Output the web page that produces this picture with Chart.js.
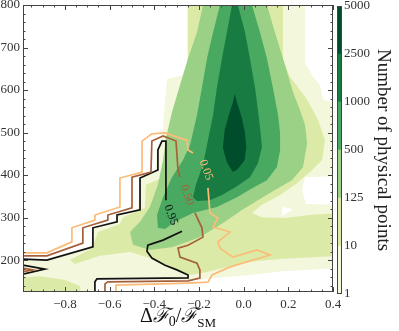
<!DOCTYPE html>
<html>
<head>
<meta charset="utf-8">
<script src="https://cdn.jsdelivr.net/npm/chart.js@4.4.1/dist/chart.umd.min.js"></script>
<style>
  body { margin: 0; background: #fff; width: 399px; height: 331px; overflow: hidden; position: relative; }
  #main { position: absolute; left: 0; top: 0; width: 352px; height: 331px; }
  #cbar { position: absolute; left: 336px; top: 0; width: 63px; height: 331px; }
</style>
</head>
<body>
<div id="main"><canvas id="plot"></canvas></div>
<div id="cbar"><canvas id="bar"></canvas></div>
<script>
// ── Données ────────────────────────────────────────────────────────────────
// axes
const xLimits = [-0.988, 0.4];
const yLimits = [125, 800];
const xTickValues = [-0.8, -0.6, -0.4, -0.2, 0.0, 0.2, 0.4];
const yTickValues = [200, 300, 400, 500, 600, 700, 800];

// échelle de couleur (nombre de points physiques)
const levelEdges  = ['1', '10', '125', '500', '1000', '2500', '5000'];
const levelColors = ['#f3f7dc', '#dbeba7', '#9bd087', '#4aa961', '#187b42', '#004d2c'];

// zones remplies : [ΔF0/FSM, y]
const region1 = [[-0.254,824],[-0.254,638],[-0.343,626],[-0.352,577],[-0.361,513],[-0.37,480],[-0.388,459],[-0.397,412],[-0.464,398],[-0.473,320],[-0.567,308],[-0.576,292],[-0.675,278],[-0.684,233],[-0.881,203],[-1.02,198],[-1.02,106],[-0.675,106],[-0.666,144],[-0.644,156],[-0.24,153],[-0.12,158],[0.028,165],[0.176,174],[0.431,181],[0.431,330],[0.279,332],[0.261,365],[0.275,395],[0.431,398],[0.431,565],[0.355,577],[0.342,612],[0.31,631],[0.275,664],[0.275,824]];
const emptyPocket = [[0.172,325],[0.221,320],[0.172,304]];
const region2 = [[-0.249,824],[-0.249,640],[-0.276,607],[-0.303,577],[-0.321,513],[-0.33,471],[-0.339,424],[-0.366,393],[-0.438,377],[-0.442,323],[-0.54,301],[-0.554,285],[-0.652,266],[-0.679,228],[-0.778,200],[-0.756,191],[-0.644,210],[-0.509,219],[-0.42,205],[-0.33,181],[-0.24,165],[-0.164,172],[-0.075,184],[0.028,196],[0.176,203],[0.431,210],[0.431,311],[0.297,306],[0.185,299],[0.082,301],[0.037,311],[0.082,330],[0.163,353],[0.23,377],[0.297,407],[0.351,435],[0.364,482],[0.333,530],[0.284,577],[0.243,607],[0.207,631],[0.176,671],[0.176,824]];
const region2Blob = [[-1.02,158],[-0.912,162],[-0.8,153],[-0.733,139],[-0.724,106],[-1.02,106]];
const region3 = [[-0.182,824],[-0.182,800],[-0.209,736],[-0.249,675],[-0.285,612],[-0.321,548],[-0.348,487],[-0.361,435],[-0.384,377],[-0.42,325],[-0.464,290],[-0.509,266],[-0.496,236],[-0.42,224],[-0.317,231],[-0.196,254],[-0.084,290],[-0.008,318],[0.064,341],[0.14,365],[0.216,388],[0.266,419],[0.284,475],[0.275,518],[0.252,553],[0.221,595],[0.176,675],[0.14,736],[0.104,800],[0.104,824]];
const region4 = [[-0.106,824],[-0.106,800],[-0.137,736],[-0.164,675],[-0.187,605],[-0.209,541],[-0.24,471],[-0.272,435],[-0.321,395],[-0.361,348],[-0.388,306],[-0.384,276],[-0.352,273],[-0.308,290],[-0.227,311],[-0.12,325],[-0.03,348],[0.042,370],[0.104,388],[0.149,419],[0.163,459],[0.163,499],[0.154,541],[0.131,605],[0.104,675],[0.073,736],[0.037,800],[0.037,824]];
const region5 = [[-0.052,824],[-0.052,800],[-0.075,736],[-0.097,675],[-0.12,605],[-0.137,541],[-0.16,482],[-0.182,424],[-0.214,377],[-0.227,348],[-0.209,339],[-0.151,341],[-0.097,353],[-0.03,374],[0.028,395],[0.064,428],[0.082,466],[0.073,513],[0.064,553],[0.051,605],[0.028,675],[0.006,736],[-0.026,800],[-0.026,824]];
const region6 = [[-0.04,590],[-0.026,565],[-0.008,534],[0.006,499],[0.012,464],[0.004,435],[-0.03,412],[-0.05,408],[-0.075,430],[-0.093,464],[-0.085,506],[-0.066,541],[-0.048,572]];

// lignes de contour (fraction 0.05 / 0.50 / 0.95), en morceaux
const contour05 = [
  [[-1.02,217],[-0.881,217],[-0.769,243],[-0.769,276],[-0.666,294],[-0.666,306],[-0.554,325],[-0.554,393],[-0.455,407],[-0.455,480],[-0.411,497],[-0.352,499],[-0.285,487],[-0.254,482],[-0.249,459],[-0.227,452]],
  [[-0.16,370],[-0.151,311],[-0.115,299],[-0.137,278],[-0.061,266],[-0.115,243],[-0.106,228],[-0.048,207],[0.06,224],[0.118,212],[0.073,205],[-0.061,184],[-0.142,165],[-0.16,148],[-0.249,146],[-0.572,141],[-0.572,106]],
];
const contour50 = [
  [[-1.02,210],[-0.881,210],[-0.72,240],[-0.72,276],[-0.608,294],[-0.608,306],[-0.5,323],[-0.5,395],[-0.415,407],[-0.411,480],[-0.361,492],[-0.303,480],[-0.294,412],[-0.285,395]],
  [[-0.218,311],[-0.187,276],[-0.182,254],[-0.249,235],[-0.294,228],[-0.285,207],[-0.209,193],[-0.196,177],[-0.196,158],[-0.249,151],[-0.608,149],[-0.621,144],[-0.621,106]],
  [[-1.02,184],[-0.944,177],[-1.02,170]],
];
const contour95 = [
  [[-1.02,203],[-0.881,200],[-0.675,231],[-0.675,276],[-0.567,290],[-0.567,306],[-0.464,318],[-0.464,393],[-0.384,412],[-0.384,459],[-0.366,480],[-0.348,480],[-0.348,341]],
  [[-0.276,268],[-0.361,247],[-0.429,235],[-0.433,221],[-0.411,205],[-0.352,188],[-0.299,177],[-0.249,165],[-0.249,158],[-0.657,156],[-0.666,149],[-0.666,106]],
  [[-1.02,191],[-0.89,179],[-1.02,163]],
];
const contourNames  = ['0.05', '0.50', '0.95'];
const contourLabelAt = [[-0.169, 412], [-0.254, 353], [-0.326, 306]];

// ── Styles ────────────────────────────────────────────────────────────────
const SERIF = "'Liberation Serif', 'DejaVu Serif', serif";
const contourColors = ['#fcbc78', '#a6603a', '#111111'];
const toPts = arr => arr.map(([x, y]) => ({ x, y }));
const fmt = v => (v < 0 ? '\u2212' : '') + Math.abs(v).toFixed(1);

function area(data, color, order) {
  return { data: toPts(data), showLine: true, fill: 'shape', backgroundColor: color,
           borderWidth: 0, pointRadius: 0, order };
}
function contourLine(data, color) {
  return { data: toPts(data), showLine: true, fill: false, borderColor: color,
           borderWidth: 1.7, pointRadius: 0, order: 0 };
}

const datasets = [
  area(region1, levelColors[0], 20),
  area(emptyPocket, '#ffffff', 19),
  area(region2, levelColors[1], 18),
  area(region2Blob, levelColors[1], 18),
  area(region3, levelColors[2], 17),
  area(region4, levelColors[3], 16),
  area(region5, levelColors[4], 15),
  area(region6, levelColors[5], 14),
];
[contour05, contour50, contour95].forEach((pieces, i) =>
  pieces.forEach(p => datasets.push(contourLine(p, contourColors[i]))));

// pas de marge auto pour les étiquettes qui débordent
const noOverflow = s => { s.paddingLeft = 0; s.paddingRight = 0; s.paddingTop = 0; s.paddingBottom = 0; };

// ── Plugins : cadre + graduations internes, étiquettes, titre de l'axe x ───
const framePlugin = {
  id: 'frame',
  afterDraw(chart) {
    const { ctx, chartArea: a, scales } = chart;
    ctx.save();
    ctx.strokeStyle = '#444';
    ctx.lineWidth = 1;
    ctx.strokeRect(Math.round(a.left) + 0.5, Math.round(a.top) + 0.5,
                   Math.round(a.right - a.left) - 1, Math.round(a.bottom - a.top) - 1);
    if (chart.canvas.id === 'plot') {
      const tick = (len, xs, ys) => {
        ctx.beginPath();
        xs.forEach(v => {
          const px = Math.round(scales.x.getPixelForValue(v)) + 0.5;
          ctx.moveTo(px, a.bottom); ctx.lineTo(px, a.bottom - len);
          ctx.moveTo(px, a.top);    ctx.lineTo(px, a.top + len);
        });
        ys.forEach(v => {
          const py = Math.round(scales.y.getPixelForValue(v)) + 0.5;
          ctx.moveTo(a.left, py);  ctx.lineTo(a.left + len, py);
          ctx.moveTo(a.right, py); ctx.lineTo(a.right - len, py);
        });
        ctx.stroke();
      };
      const xMinor = [], yMinor = [];
      for (let v = -0.95; v < 0.4; v += 0.05) xMinor.push(+v.toFixed(2));
      for (let v = 140; v < 800; v += 20) yMinor.push(v);
      tick(2.5, xMinor, yMinor);
      tick(5, xTickValues, yTickValues);
    }
    ctx.restore();
  }
};

const labelPlugin = {
  id: 'clabels',
  afterDatasetsDraw(chart) {
    const { ctx, scales: { x, y } } = chart;
    ctx.save();
    ctx.font = `12px ${SERIF}`;
    ctx.textAlign = 'center';
    ctx.textBaseline = 'middle';
    contourNames.forEach((txt, i) => {
      ctx.save();
      ctx.translate(x.getPixelForValue(contourLabelAt[i][0]), y.getPixelForValue(contourLabelAt[i][1]));
      ctx.rotate(70 * Math.PI / 180);
      ctx.fillStyle = contourColors[i];
      ctx.fillText(txt, 0, 0);
      ctx.restore();
    });
    ctx.restore();
  }
};

const xTitlePlugin = {
  id: 'xtitle',
  afterDraw(chart) {
    const { ctx, chartArea: a } = chart;
    const parts = [
      { t: '\u0394', f: `20px ${SERIF}`, dy: 0 },
      { t: '\u2131', f: `italic 20px ${SERIF}`, dy: 0 },
      { t: '0', f: `14px ${SERIF}`, dy: 4 },
      { t: '/', f: `20px ${SERIF}`, dy: 0 },
      { t: '\u2131', f: `italic 20px ${SERIF}`, dy: 0 },
      { t: 'SM', f: `13px ${SERIF}`, dy: 5 },
    ];
    ctx.save();
    ctx.fillStyle = '#111';
    ctx.textBaseline = 'alphabetic';
    let w = 0;
    parts.forEach(p => { ctx.font = p.f; p.w = ctx.measureText(p.t).width; w += p.w; });
    let cx = (a.left + a.right) / 2 - w / 2;
    parts.forEach(p => { ctx.font = p.f; ctx.fillText(p.t, cx, 322 + p.dy); cx += p.w; });
    ctx.restore();
  }
};

// ── Graphique principal ───────────────────────────────────────────────────
new Chart(document.getElementById('plot'), {
  type: 'scatter',
  data: { datasets },
  options: {
    animation: false,
    responsive: true,
    maintainAspectRatio: false,
    layout: { padding: { top: 5, right: 19, left: 0, bottom: 0 } },
    plugins: { legend: { display: false }, tooltip: { enabled: false } },
    scales: {
      x: {
        type: 'linear', min: xLimits[0], max: xLimits[1],
        afterBuildTicks: s => { s.ticks = xTickValues.map(value => ({ value })); },
        afterFit: s => { s.height = 39; noOverflow(s); },
        grid: { display: false, drawTicks: false },
        border: { display: false },
        ticks: { padding: 5, color: '#333', maxRotation: 0, font: { family: SERIF, size: 13 }, callback: v => fmt(v) },
      },
      y: {
        type: 'linear', min: yLimits[0], max: yLimits[1],
        afterBuildTicks: s => { s.ticks = yTickValues.map(value => ({ value })); },
        afterFit: s => { s.width = 23; noOverflow(s); },
        grid: { display: false, drawTicks: false },
        border: { display: false },
        ticks: { padding: 3, color: '#333', font: { family: SERIF, size: 13 } },
      },
    },
  },
  plugins: [framePlugin, labelPlugin, xTitlePlugin],
});

// ── Barre de couleur ──────────────────────────────────────────────────────
new Chart(document.getElementById('bar'), {
  type: 'bar',
  data: {
    labels: [''],
    datasets: levelColors.map(c => ({ data: [1], backgroundColor: c, borderWidth: 0,
                                      barPercentage: 1, categoryPercentage: 1 })),
  },
  options: {
    animation: false,
    responsive: true,
    maintainAspectRatio: false,
    layout: { padding: { top: 6, bottom: 37, left: 1, right: 0 } },
    plugins: { legend: { display: false }, tooltip: { enabled: false } },
    scales: {
      x: { display: false, stacked: true },
      y: {
        stacked: true, position: 'right', min: 0, max: levelColors.length,
        afterBuildTicks: s => { s.ticks = levelEdges.map((_, i) => ({ value: i })); },
        afterFit: s => { s.width = 57; noOverflow(s); },
        grid: { display: false, drawTicks: false },
        border: { display: false },
        ticks: { padding: 2, color: '#333', font: { family: SERIF, size: 13 }, callback: v => levelEdges[v] },
        title: { display: true, text: 'Number of physical points', color: '#222',
                 font: { family: SERIF, size: 19 }, padding: { top: 5, bottom: 0 } },
      },
    },
  },
  plugins: [framePlugin],
});
</script>
</body>
</html>
